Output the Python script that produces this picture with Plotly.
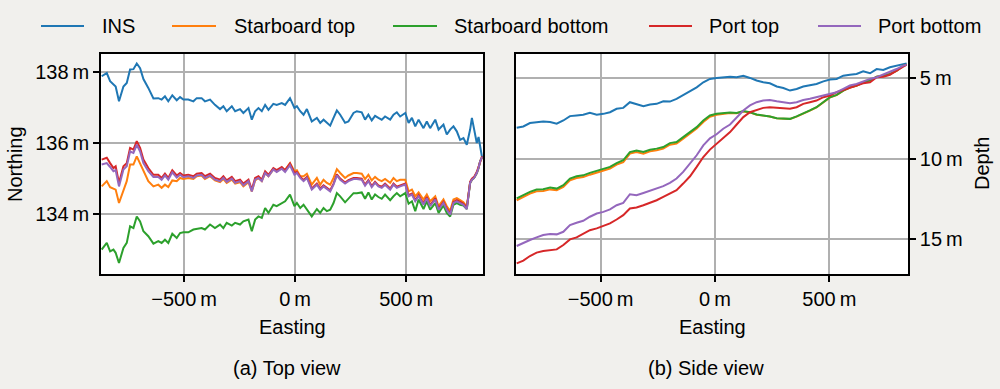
import plotly.graph_objects as go

FONT = "Liberation Sans, Arial, Helvetica, sans-serif"

series_names = ["INS", "Starboard top", "Starboard bottom", "Port top", "Port bottom"]
colors = ["#1f77b4", "#ff7f0e", "#2ca02c", "#d62728", "#9467bd"]

# ---------------- (a) Top view : Easting vs Northing ----------------
top_easting = [
    -871, -848, -833, -818, -808, -793, -773, -758, -743, -728,
    -713, -698, -683, -661, -638, -616, -601, -586, -571, -553,
    -533, -518, -503, -481, -458, -443, -421, -406, -383, -361,
    -338, -323, -308, -285, -270, -248, -233, -210, -195, -180,
    -165, -150, -135, -120, -98, -83, -60, -45, -23, -3,
    8, 23, 38, 53, 75, 98, 113, 128, 143, 158,
    173, 188, 203, 225, 240, 263, 278, 300, 315, 330,
    345, 360, 375, 390, 405, 428, 443, 458, 473, 496,
    511, 526, 541, 556, 578, 593, 608, 631, 646, 668,
    683, 698, 713, 728, 743, 758, 773, 788, 796, 806,
    818, 826, 833, 842,
]

top_ins = [
    137.89, 137.98, 137.75, 137.65, 137.60, 137.18, 137.60, 137.70, 138.08, 138.09,
    138.25, 138.12, 137.81, 137.56, 137.26, 137.27, 137.23, 137.32, 137.18, 137.35,
    137.21, 137.30, 137.23, 137.23, 137.18, 137.27, 137.27, 137.18, 137.23, 137.08,
    136.96, 137.04, 136.90, 137.04, 136.90, 136.96, 136.85, 136.99, 136.66, 136.90,
    136.99, 136.90, 137.08, 136.94, 137.11, 137.08, 137.13, 137.08, 137.27, 136.99,
    137.04, 136.90, 136.80, 136.96, 136.61, 136.71, 136.57, 136.66, 136.58, 136.49,
    136.71, 136.92, 136.80, 136.57, 136.61, 136.85, 136.90, 136.87, 136.66, 136.80,
    136.64, 136.77, 136.71, 136.66, 136.75, 136.66, 136.80, 136.87, 136.75, 136.85,
    136.57, 136.71, 136.47, 136.66, 136.42, 136.61, 136.42, 136.66, 136.38, 136.52,
    136.24, 136.38, 136.47, 136.33, 136.09, 136.14, 135.95, 136.38, 136.71, 136.33,
    136.00, 136.17, 135.91, 135.58,
]

top_starboard_top = [
    134.77, 134.92, 134.75, 134.70, 134.68, 134.30, 134.68, 134.92, 135.39, 135.39,
    135.62, 135.43, 135.20, 134.92, 134.77, 134.82, 134.73, 134.82, 134.75, 134.94,
    134.92, 135.01, 134.98, 135.01, 134.98, 135.06, 135.08, 134.98, 135.06, 134.94,
    134.89, 134.98, 134.87, 134.96, 134.85, 134.89, 134.77, 134.89, 134.63, 134.94,
    135.01, 134.92, 135.15, 135.06, 135.25, 135.20, 135.29, 135.23, 135.43, 135.20,
    135.23, 135.06, 135.06, 135.13, 134.82, 135.01, 134.82, 134.96, 134.87, 134.82,
    135.01, 135.26, 135.15, 135.01, 135.08, 135.15, 135.15, 135.13, 134.98, 135.10,
    134.94, 135.04, 134.96, 134.92, 134.98, 134.87, 135.01, 134.92, 134.96, 134.96,
    134.63, 134.68, 134.49, 134.60, 134.40, 134.54, 134.35, 134.49, 134.21, 134.40,
    134.21, 134.07, 134.40, 134.44, 134.38, 134.32, 134.19, 134.87, 134.96, 135.01,
    135.15, 135.29, 135.48, 135.60,
]

top_starboard_bottom = [
    132.98, 133.17, 132.93, 132.98, 132.89, 132.60, 133.03, 133.17, 133.64, 133.59,
    133.92, 133.78, 133.50, 133.36, 133.15, 133.22, 133.17, 133.26, 133.17, 133.43,
    133.31, 133.45, 133.47, 133.47, 133.55, 133.57, 133.59, 133.55, 133.69, 133.59,
    133.69, 133.59, 133.74, 133.66, 133.74, 133.69, 133.78, 133.83, 133.50, 133.83,
    133.92, 133.88, 134.16, 134.02, 134.25, 134.21, 134.30, 134.35, 134.54, 134.21,
    134.30, 134.16, 134.25, 134.11, 133.92, 134.13, 134.02, 134.16, 134.07, 134.11,
    134.30, 134.58, 134.49, 134.32, 134.42, 134.58, 134.58, 134.60, 134.42, 134.60,
    134.40, 134.54, 134.47, 134.42, 134.54, 134.38, 134.49, 134.58, 134.49, 134.58,
    134.28, 134.35, 134.07, 134.40, 134.13, 134.35, 134.11, 134.30, 134.02, 134.23,
    134.02, 133.92, 134.25, 134.30, 134.25, 134.23, 134.13, 134.87, 134.96, 135.01,
    135.15, 135.29, 135.48, 135.60,
]

top_port_top = [
    135.53, 135.58, 135.43, 135.29, 135.34, 134.87, 135.34, 135.43, 135.86, 135.81,
    136.05, 135.86, 135.53, 135.29, 135.10, 135.10, 135.01, 135.13, 135.01, 135.23,
    135.08, 135.15, 135.08, 135.10, 135.06, 135.13, 135.15, 135.06, 135.13, 135.01,
    134.96, 135.06, 134.94, 135.04, 134.92, 134.96, 134.85, 134.96, 134.68, 135.01,
    135.06, 134.96, 135.20, 135.10, 135.29, 135.23, 135.32, 135.23, 135.42, 135.15,
    135.18, 135.04, 134.95, 135.04, 134.71, 134.85, 134.71, 134.80, 134.73, 134.66,
    134.85, 135.11, 134.99, 134.88, 134.95, 135.01, 135.01, 134.99, 134.82, 134.95,
    134.78, 134.90, 134.80, 134.76, 134.85, 134.71, 134.85, 134.76, 134.80, 134.85,
    134.52, 134.57, 134.38, 134.52, 134.28, 134.47, 134.24, 134.43, 134.14, 134.33,
    134.14, 134.00, 134.33, 134.38, 134.33, 134.28, 134.16, 134.90, 134.99, 135.04,
    135.18, 135.32, 135.50, 135.62,
]

top_port_bottom = [
    135.39, 135.43, 135.32, 135.20, 135.23, 134.77, 135.25, 135.34, 135.76, 135.72,
    135.95, 135.76, 135.43, 135.20, 135.04, 135.04, 134.96, 135.08, 134.96, 135.17,
    135.02, 135.10, 135.03, 135.06, 135.01, 135.08, 135.10, 135.01, 135.08, 134.96,
    134.92, 135.01, 134.90, 134.99, 134.87, 134.92, 134.80, 134.92, 134.63, 134.96,
    135.01, 134.92, 135.15, 135.06, 135.25, 135.18, 135.27, 135.18, 135.37, 135.10,
    135.15, 135.01, 134.92, 135.01, 134.68, 134.82, 134.68, 134.77, 134.70, 134.63,
    134.82, 135.08, 134.96, 134.85, 134.92, 134.98, 134.98, 134.96, 134.79, 134.92,
    134.75, 134.87, 134.77, 134.73, 134.82, 134.68, 134.82, 134.73, 134.77, 134.82,
    134.49, 134.54, 134.35, 134.49, 134.25, 134.44, 134.21, 134.40, 134.11, 134.30,
    134.11, 133.97, 134.30, 134.35, 134.30, 134.25, 134.13, 134.87, 134.96, 135.01,
    135.15, 135.29, 135.48, 135.60,
]

# ---------------- (b) Side view : Easting vs Depth ----------------
side_easting = [
    -867, -838, -809, -780, -751, -721, -692, -663, -634, -605,
    -576, -547, -517, -488, -459, -430, -401, -372, -343, -313,
    -284, -255, -226, -197, -168, -139, -109, -80, -51, -22,
    7, 36, 66, 95, 124, 153, 182, 211, 240, 270,
    299, 328, 357, 386, 415, 444, 474, 503, 532, 561,
    590, 619, 648, 678, 707, 736, 765, 794, 823, 838,
]

side_ins = [
    8.10, 8.02, 7.81, 7.75, 7.71, 7.75, 7.85, 7.65, 7.38, 7.34,
    7.30, 7.18, 7.30, 7.24, 7.14, 6.93, 6.87, 6.52, 6.62, 6.77,
    6.66, 6.62, 6.46, 6.48, 6.31, 6.07, 5.84, 5.60, 5.29, 5.08,
    5.02, 4.98, 4.94, 4.98, 4.88, 5.02, 5.18, 5.29, 5.35, 5.55,
    5.64, 5.80, 5.70, 5.55, 5.49, 5.39, 5.23, 5.12, 5.08, 4.88,
    4.82, 4.77, 4.61, 4.73, 4.47, 4.53, 4.36, 4.26, 4.16, 4.12,
]

side_starboard_top = [
    12.58, 12.38, 12.17, 12.03, 12.01, 11.91, 11.96, 11.76, 11.35, 11.21,
    11.15, 11.00, 10.88, 10.78, 10.62, 10.38, 10.22, 9.70, 9.60, 9.70,
    9.56, 9.49, 9.39, 9.15, 9.08, 8.78, 8.47, 8.15, 7.74, 7.42,
    7.30, 7.24, 7.19, 7.20, 7.09, 7.15, 7.29, 7.35, 7.41, 7.52,
    7.56, 7.56, 7.41, 7.25, 7.04, 6.84, 6.53, 6.22, 6.08, 5.81,
    5.61, 5.50, 5.30, 5.19, 4.95, 4.89, 4.78, 4.58, 4.27, 4.20,
]

side_starboard_bottom = [
    12.47, 12.27, 12.06, 11.92, 11.90, 11.80, 11.86, 11.65, 11.24, 11.10,
    11.04, 10.89, 10.77, 10.67, 10.52, 10.28, 10.11, 9.60, 9.50, 9.60,
    9.46, 9.39, 9.29, 9.05, 8.98, 8.68, 8.37, 8.06, 7.65, 7.34,
    7.24, 7.20, 7.16, 7.18, 7.07, 7.14, 7.28, 7.34, 7.40, 7.51,
    7.55, 7.55, 7.40, 7.24, 7.03, 6.83, 6.52, 6.21, 6.07, 5.80,
    5.60, 5.49, 5.29, 5.18, 4.94, 4.88, 4.77, 4.57, 4.26, 4.20,
]

side_port_top = [
    16.48, 16.31, 16.03, 15.82, 15.72, 15.66, 15.62, 15.35, 15.00, 14.88,
    14.67, 14.43, 14.32, 14.18, 14.01, 13.77, 13.50, 13.09, 13.03, 12.89,
    12.74, 12.58, 12.37, 12.17, 11.96, 11.55, 11.10, 10.52, 9.91, 9.45,
    9.10, 8.72, 8.37, 7.90, 7.44, 7.14, 6.99, 6.87, 6.83, 6.87,
    6.93, 6.93, 6.83, 6.62, 6.52, 6.42, 6.21, 6.11, 5.90, 5.76,
    5.60, 5.49, 5.35, 5.29, 4.98, 4.94, 4.82, 4.57, 4.32, 4.20,
]

side_port_bottom = [
    15.41, 15.21, 15.04, 14.88, 14.73, 14.67, 14.69, 14.53, 14.12, 13.97,
    13.85, 13.60, 13.40, 13.30, 13.15, 12.89, 12.74, 12.21, 12.27, 12.13,
    12.00, 11.86, 11.71, 11.51, 11.24, 10.83, 10.32, 9.80, 9.19, 8.75,
    8.50, 8.16, 7.90, 7.44, 7.03, 6.72, 6.52, 6.42, 6.38, 6.46,
    6.52, 6.58, 6.52, 6.38, 6.31, 6.21, 6.07, 5.97, 5.90, 5.70,
    5.49, 5.39, 5.23, 5.08, 4.98, 4.82, 4.67, 4.47, 4.26, 4.20,
]

easting_tickvals = [-500, 0, 500]
easting_ticktext = ["\u2212500\u2009m", "0\u2009m", "500\u2009m"]
northing_tickvals = [134, 136, 138]
northing_ticktext = ["134\u2009m", "136\u2009m", "138\u2009m"]
depth_tickvals = [5, 10, 15]
depth_ticktext = ["5\u2009m", "10\u2009m", "15\u2009m"]

top_series = [top_ins, top_starboard_top, top_starboard_bottom, top_port_top, top_port_bottom]
side_series = [side_ins, side_starboard_top, side_starboard_bottom, side_port_top, side_port_bottom]

W, H = 1000, 389

fig = go.Figure()
for name, color, ys in zip(series_names, colors, top_series):
    fig.add_trace(go.Scatter(x=top_easting, y=ys, mode="lines", name=name,
                             line=dict(color=color, width=2),
                             xaxis="x", yaxis="y", showlegend=False))
for name, color, ys in zip(series_names, colors, side_series):
    fig.add_trace(go.Scatter(x=side_easting, y=ys, mode="lines", name=name,
                             line=dict(color=color, width=2),
                             xaxis="x2", yaxis="y2", showlegend=False))

ax = dict(showline=True, linecolor="black", linewidth=1.6, mirror=True,
          ticks="outside", ticklen=6, tickwidth=1.6, tickcolor="black",
          showgrid=True, gridcolor="#b0b0b0", gridwidth=1.5, zeroline=False,
          tickfont=dict(size=20, color="black", family=FONT))

y_dom = [1 - 274 / H, 1 - 54 / H]

fig.update_layout(
    width=W, height=H,
    margin=dict(l=0, r=0, t=0, b=0),
    paper_bgcolor="#f1f0ed", plot_bgcolor="white",
    font=dict(family=FONT, size=20, color="black"),
    showlegend=False,
    xaxis=dict(domain=[101 / W, 483 / W], range=[-874, 846], anchor="y",
               tickvals=easting_tickvals, ticktext=easting_ticktext, **ax),
    yaxis=dict(domain=y_dom, range=[132.29, 138.52], anchor="x",
               tickvals=northing_tickvals, ticktext=northing_ticktext, **ax),
    xaxis2=dict(domain=[516 / W, 908 / W], range=[-870, 844], anchor="y2",
                tickvals=easting_tickvals, ticktext=easting_ticktext, **ax),
    yaxis2=dict(domain=y_dom, range=[17.14, 3.54], anchor="x2", side="right",
                tickvals=depth_tickvals, ticktext=depth_ticktext, **ax),
)

def ann(text, xpx, ypx, angle=0, xanchor="center"):
    fig.add_annotation(text=text, x=xpx / W, y=1 - ypx / H, xref="paper", yref="paper",
                       showarrow=False, textangle=angle, xanchor=xanchor, yanchor="middle",
                       font=dict(size=20, color="black", family=FONT))

ann("Northing", 15, 164, -90)
ann("Depth", 982, 164, -90)
ann("Easting", 292, 327)
ann("Easting", 712, 327)
ann("(a) Top view", 287, 368)
ann("(b) Side view", 706, 368)

# Legend row across the top
legend_line_px = [(41, 84), (172, 216), (393, 437), (649, 692), (818, 861)]
legend_text_px = [100, 232, 452, 707, 876]
for (x0, x1), tx, name, color in zip(legend_line_px, legend_text_px, series_names, colors):
    fig.add_shape(type="line", xref="paper", yref="paper",
                  x0=x0 / W, x1=x1 / W, y0=1 - 26 / H, y1=1 - 26 / H,
                  line=dict(color=color, width=2.2))
    ann(name, tx, 26, 0, "left")

fig.write_html(
    "out.html",
    config={"displayModeBar": False},
    post_script="document.body.style.margin='0';document.body.style.overflow='hidden';"
                "document.documentElement.style.background='#f1f0ed';",
)
